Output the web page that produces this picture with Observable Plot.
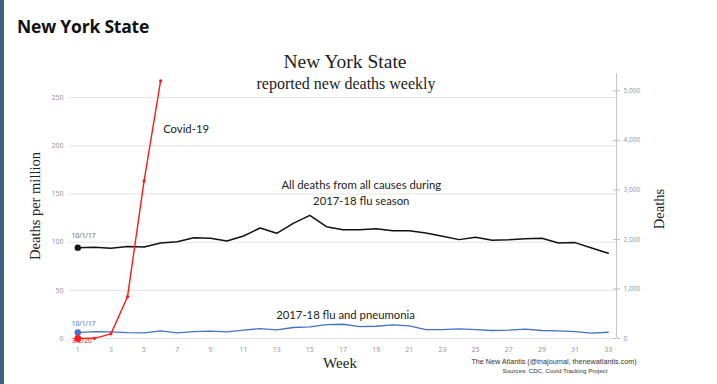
<!DOCTYPE html>
<html>
<head>
<meta charset="utf-8">
<script src="https://cdn.jsdelivr.net/npm/d3@7"></script>
<script src="https://cdn.jsdelivr.net/npm/@observablehq/plot@0.6"></script>
<style>
  html, body { margin: 0; padding: 0; background: #fff; }
  #page { position: relative; width: 717px; height: 384px; overflow: hidden; background: #fff; }
  #strip { position: absolute; left: 0; top: 0; width: 4px; height: 384px; background: #3c6182; }
  #chart { position: absolute; left: 0; top: 0; }
  .t { position: absolute; white-space: nowrap; }
  #heading { left: 17px; top: 14px; font: bold 17.5px "Open Sans", sans-serif; color: #111; letter-spacing: -0.2px; }
  #title { left: 0; width: 690px; text-align: center; top: 51px; font: 19.5px "Liberation Serif", serif; color: #222; }
  #subtitle { left: 0; width: 692px; text-align: center; top: 75px; font: 16px "Liberation Serif", serif; color: #222; }
  #credit { left: 454px; width: 200px; text-align: center; top: 357px; font: 7.2px "Liberation Sans", sans-serif; color: #333; }
  #sources { left: 455px; width: 200px; text-align: center; top: 367px; font: 6.2px "Liberation Sans", sans-serif; color: #333; }
</style>
</head>
<body>
<div id="page">
  <div id="chart"></div>
  <div id="strip"></div>
  <div class="t" id="heading">New York State</div>
  <div class="t" id="title">New York State</div>
  <div class="t" id="subtitle">reported new deaths weekly</div>
  <div class="t" id="credit">The New Atlantis (@tnajournal, thenewatlantis.com)</div>
  <div class="t" id="sources">Sources: CDC, Covid Tracking Project</div>
</div>
<script>
// ---- data ----
const weeks = [1,2,3,4,5,6,7,8,9,10,11,12,13,14,15,16,17,18,19,20,21,22,23,24,25,26,27,28,29,30,31,32,33];
const allDeaths = [94.3,94.7,93.7,95.4,95.0,99.2,100.5,104.6,104.0,101.2,106.4,114.7,109.2,119.5,127.8,116.0,112.8,112.9,114.0,111.9,111.9,109.5,106.1,102.6,105.0,102.0,102.6,103.6,104.0,99.2,99.5,94.0,88.5];
const fluPneumonia = [6.2,7.2,6.9,6.2,5.9,8.0,5.9,7.2,7.6,6.9,8.6,10.3,9.0,11.4,12.1,14.5,14.8,12.4,12.7,14.1,13.1,9.3,9.3,10.0,9.3,8.3,8.6,9.7,8.3,8.0,7.2,5.5,6.5];
const covidWeeks = [1,2,3,4,5,6];
const covid = [0,0.2,4.8,43.4,163.5,267.5];
const leftTicks = [0,50,100,150,200,250];
const xTicks = [1,3,5,7,9,11,13,15,17,19,21,23,25,27,29,31,33];
const rightTickDeaths = [0,1000,2000,3000,4000,5000];
const populationMillions = 19.45;
const covidLabel = [{text: "Covid-19", week: 6.15, value: 217}];
const seriesLabels = [
  {text: "All deaths from all causes during\n2017-18 flu season", week: 18.1, value: 152},
  {text: "2017-18 flu and pneumonia", week: 17.15, value: 25.5}
];
const startLabels = [
  {text: "10/1/17", week: 1, value: 106.5, color: "#666"},
  {text: "10/1/17", week: 1, value: 15.3, color: "#4472c4"},
  {text: "3/2/20", week: 1, value: -2.4, color: "#ff2020"}
];

// ---- build ----
const allRows = weeks.map((w, i) => ({week: w, value: allDeaths[i]}));
const fluRows = weeks.map((w, i) => ({week: w, value: fluPneumonia[i]}));
const covidRows = covidWeeks.map((w, i) => ({week: w, value: covid[i]}));
const rightTicks = rightTickDeaths.map(d => d / populationMillions);
const fmt = d3.format(",");
const xDomain = [0.5, 33.5];
const yDomain = [0, 275];

const chart = Plot.plot({
  width: 717,
  height: 384,
  marginLeft: 69,
  marginRight: 101,
  marginTop: 73,
  marginBottom: 46,
  style: {background: "transparent", overflow: "visible"},
  x: {type: "linear", domain: xDomain},
  y: {type: "linear", domain: yDomain},
  marks: [
    Plot.gridY(leftTicks, {stroke: "#e3e3e3", strokeOpacity: 1, strokeWidth: 1}),
    Plot.axisY(leftTicks, {anchor: "left", tickSize: 0, tickPadding: 6, fontSize: 7, fill: "#999", label: null}),
    Plot.axisX(xTicks, {anchor: "bottom", tickSize: 0, tickPadding: 9, fontSize: 7, fill: "#999", label: null}),
    Plot.axisY(rightTicks, {anchor: "right", tickSize: 3, tickPadding: 4, fontSize: 6.5, fill: "#999", stroke: "#bbb", tickFormat: d => fmt(Math.round(d * populationMillions)), label: null}),
    Plot.ruleY(rightTicks, {y: d => d, x1: 33.33, x2: xDomain[1], stroke: "#bbb"}),
    Plot.ruleX([xDomain[1]], {y1: yDomain[0], y2: yDomain[1], stroke: "#c4c4c4"}),
    Plot.line(fluRows, {x: "week", y: "value", stroke: "#4472c4", strokeWidth: 1.3}),
    Plot.line(allRows, {x: "week", y: "value", stroke: "#111", strokeWidth: 1.5}),
    Plot.line(covidRows, {x: "week", y: "value", stroke: "#ff1a1a", strokeWidth: 1.4}),
    Plot.dot(covidRows, {x: "week", y: "value", r: 1.6, fill: "#ff1a1a"}),
    Plot.dot([allRows[0]], {x: "week", y: "value", r: 3.2, fill: "#111"}),
    Plot.dot([fluRows[0]], {x: "week", y: "value", r: 3.2, fill: "#4472c4"}),
    Plot.dot([covidRows[0]], {x: "week", y: "value", r: 3.4, fill: "#ff1a1a"}),
    Plot.text(startLabels, {x: "week", y: "value", text: "text", fill: "color", fontSize: 6.6, textAnchor: "start", dx: -6}),
    Plot.text(covidLabel, {x: "week", y: "value", text: "text", fontSize: 11.3, fill: "#222", fontFamily: "Lato, sans-serif", textAnchor: "start"}),
    Plot.text(seriesLabels, {x: "week", y: "value", text: "text", fontSize: 11.3, fill: "#222", fontFamily: "Lato, sans-serif", lineHeight: 1.45, textAnchor: "middle"}),
    Plot.text(["Deaths per million"], {frameAnchor: "left", dx: -34, rotate: -90, textAnchor: "middle", lineAnchor: "middle", fontSize: 14.5, fontFamily: "Liberation Serif, serif", fill: "#222"}),
    Plot.text(["Deaths"], {frameAnchor: "right", dx: 43, dy: 3, rotate: -90, textAnchor: "middle", lineAnchor: "middle", fontSize: 14.5, fontFamily: "Liberation Serif, serif", fill: "#222"}),
    Plot.text(["Week"], {frameAnchor: "bottom", dy: 25, dx: -3, textAnchor: "middle", lineAnchor: "middle", fontSize: 15, fontFamily: "Liberation Serif, serif", fill: "#222"})
  ]
});
document.getElementById("chart").appendChild(chart);
</script>
</body>
</html>
